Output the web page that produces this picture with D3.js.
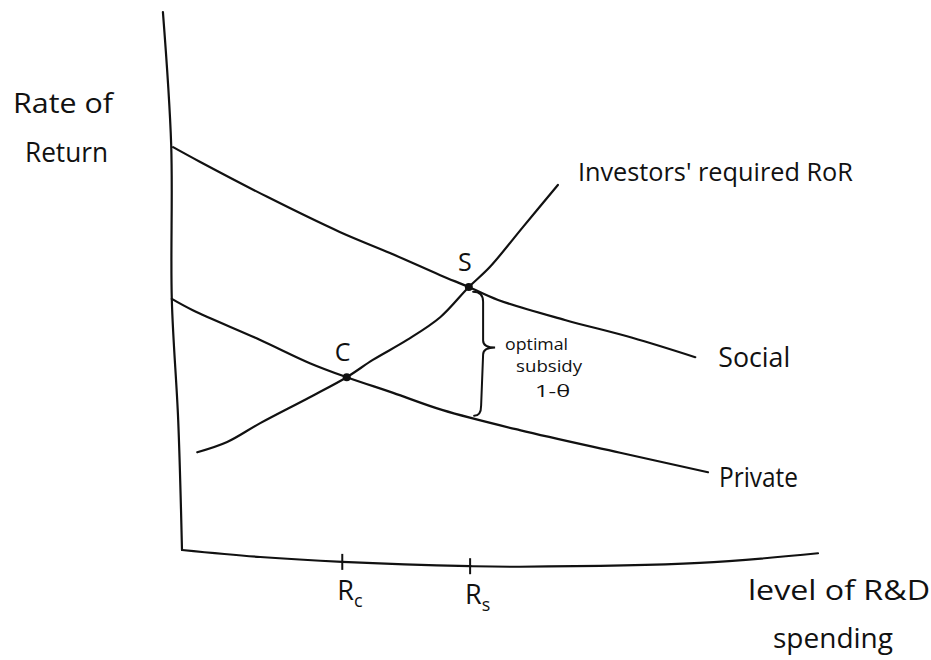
<!DOCTYPE html>
<html>
<head>
<meta charset="utf-8">
<script src="https://cdn.jsdelivr.net/npm/d3@7"></script>
<style>
  html, body { margin: 0; padding: 0; background: #fff; }
  svg text { font-family: "Open Sans", "DejaVu Sans", sans-serif; fill: #111; }
</style>
</head>
<body>
<svg id="chart" width="931" height="660"></svg>
<script>
// curves, x = R&D spending, y = rate of return (0..10 units)
const socialCurve = [[-0.14, 7.46], [0.28, 7.19], [1.34, 6.54], [2.48, 5.89], [3.27, 5.50], [4.06, 5.09],
  [4.51, 4.87], [4.97, 4.63], [6.02, 4.26], [7.08, 3.93], [8.07, 3.57]];
const privateCurve = [[-0.16, 4.65], [0.17, 4.44], [1.23, 3.89], [2.01, 3.46], [2.59, 3.20],
  [3.32, 2.91], [4.10, 2.59], [5.31, 2.22], [6.89, 1.80], [8.27, 1.44]];
const investorCurve = [[0.24, 1.81], [0.71, 2.00], [1.23, 2.35], [2.01, 2.83], [2.59, 3.20],
  [3.00, 3.52], [3.54, 3.89], [4.06, 4.31], [4.51, 4.87], [4.84, 5.24], [5.36, 5.98], [5.91, 6.76]];

// hand drawn axes (they wobble a bit)
const yAxisLine = [[-0.30, 9.96], [-0.17, 7.5], [-0.16, 4.63], [-0.06, 2.41], [0, 0]];
const xAxisLine = [[0, 0], [1.23, -0.13], [2.52, -0.22], [4.53, -0.30], [5.31, -0.31], [8.14, -0.24], [10, -0.06]];

const tickValues = [2.52, 4.53];
const tickLabels = ['R', 'R'];
const tickSubs = ['c', 's'];

const points = [[2.59, 3.20], [4.51, 4.87]];
const pointLabels = ['C', 'S'];

const subsidyGap = [4.84, 2.45];      // social -> private at Rs
const subsidyText = ['optimal', 'subsidy', '1-θ'];

const svg = d3.select('#chart');

const x = d3.scaleLinear().domain([0, 10]).range([182, 818]);
const y = d3.scaleLinear().domain([0, 10]).range([550, 10]);

const line = d3.line()
    .x(d => x(d[0]))
    .y(d => y(d[1]))
    .curve(d3.curveCatmullRom.alpha(0.5));

const ink = '#111';

//axes
svg.selectAll('.axisLine')
    .data([yAxisLine, xAxisLine])
    .join('path')
    .attr('class', 'axisLine')
    .attr('d', line)
    .attr('fill', 'none')
    .attr('stroke', ink)
    .attr('stroke-width', 2.2)
    .attr('stroke-linecap', 'round');

// axis height at some x (linear between drawn points)
const axisAt = v => {
    const i = d3.bisector(d => d[0]).right(xAxisLine, v);
    const a = xAxisLine[Math.max(0, i - 1)], b = xAxisLine[Math.min(xAxisLine.length - 1, i)];
    const t = b[0] === a[0] ? 0 : (v - a[0]) / (b[0] - a[0]);
    return a[1] + t * (b[1] - a[1]);
};

const ticks = svg.selectAll('.tick')
    .data(tickValues)
    .join('g')
    .attr('class', 'tick')
    .attr('transform', d => `translate(${x(d)}, ${y(axisAt(d))})`);

ticks.append('line')
    .attr('y1', -8)
    .attr('y2', 8)
    .attr('stroke', ink)
    .attr('stroke-width', 2);

const tickText = ticks.append('text')
    .attr('x', -5)
    .attr('y', 38)
    .style('font-size', '27px');
tickText.append('tspan').text((d, i) => tickLabels[i]);
tickText.append('tspan')
    .attr('dy', 7)
    .style('font-size', '18px')
    .text((d, i) => tickSubs[i]);

//curves
const curves = [socialCurve, privateCurve, investorCurve];
svg.selectAll('.curve')
    .data(curves)
    .join('path')
    .attr('class', 'curve')
    .attr('d', line)
    .attr('fill', 'none')
    .attr('stroke', ink)
    .attr('stroke-width', 2.2)
    .attr('stroke-linejoin', 'round')
    .attr('stroke-linecap', 'round');

// curve labels at the end of each curve
const curveLabels = [
    { text: 'Social', dx: 23, dy: 10, len: 72 },
    { text: 'Private', dx: 11, dy: 15, len: 79 },
    { text: "Investors' required RoR", dx: 20, dy: -4, len: 275 }
];
svg.selectAll('.curveLabel')
    .data(curves)
    .join('text')
    .attr('class', 'curveLabel')
    .attr('x', (d, i) => x(d[d.length - 1][0]) + curveLabels[i].dx)
    .attr('y', (d, i) => y(d[d.length - 1][1]) + curveLabels[i].dy)
    .attr('textLength', (d, i) => curveLabels[i].len)
    .attr('lengthAdjust', 'spacingAndGlyphs')
    .style('font-size', (d, i) => i === 2 ? '25px' : '27px')
    .text((d, i) => curveLabels[i].text);

//equilibrium points
svg.selectAll('.pt')
    .data(points)
    .join('circle')
    .attr('class', 'pt')
    .attr('cx', d => x(d[0]))
    .attr('cy', d => y(d[1]))
    .attr('r', 4)
    .attr('fill', ink);

svg.selectAll('.ptLabel')
    .data(points)
    .join('text')
    .attr('class', 'ptLabel')
    .attr('x', d => x(d[0]) - 4)
    .attr('y', d => y(d[1]) - 16)
    .attr('text-anchor', 'middle')
    .style('font-size', '25px')
    .text((d, i) => pointLabels[i]);

// brace for the optimal subsidy
const bx = x(tickValues[1]) + 13;
const braceTop = y(subsidyGap[0]) + 3;
const braceBot = y(subsidyGap[1]) - 2;
const braceMid = braceTop + (braceBot - braceTop) * 0.45;
svg.append('path')
    .attr('d', `M${bx - 10},${braceTop} Q${bx},${braceTop} ${bx},${braceTop + 10}
        L${bx},${braceMid - 7} Q${bx},${braceMid} ${bx + 12},${braceMid}
        Q${bx},${braceMid} ${bx},${braceMid + 7}
        L${bx - 2},${braceBot - 10} Q${bx - 2},${braceBot} ${bx - 9},${braceBot}`)
    .attr('fill', 'none')
    .attr('stroke', ink)
    .attr('stroke-width', 2)
    .attr('stroke-linecap', 'round');

svg.selectAll('.subsidy')
    .data(subsidyText)
    .join('text')
    .attr('class', 'subsidy')
    .attr('x', (d, i) => bx + [22, 33, 52][i])
    .attr('y', (d, i) => braceMid + [3, 25, 50][i])
    .attr('textLength', (d, i) => [63, 66, 35][i])
    .attr('lengthAdjust', 'spacingAndGlyphs')
    .style('font-size', '16px')
    .text(d => d);

//axis titles
svg.append('text')
    .attr('x', 13).attr('y', 113)
    .attr('textLength', 100).attr('lengthAdjust', 'spacingAndGlyphs')
    .style('font-size', '27px')
    .text('Rate of');
svg.append('text')
    .attr('x', 25).attr('y', 162)
    .attr('textLength', 83).attr('lengthAdjust', 'spacingAndGlyphs')
    .style('font-size', '27px')
    .text('Return');

svg.append('text')
    .attr('x', 748).attr('y', 600)
    .attr('textLength', 182).attr('lengthAdjust', 'spacingAndGlyphs')
    .style('font-size', '28px')
    .text('level of R&D');
svg.append('text')
    .attr('x', 773).attr('y', 648)
    .attr('textLength', 120).attr('lengthAdjust', 'spacingAndGlyphs')
    .style('font-size', '28px')
    .text('spending');
</script>
</body>
</html>
